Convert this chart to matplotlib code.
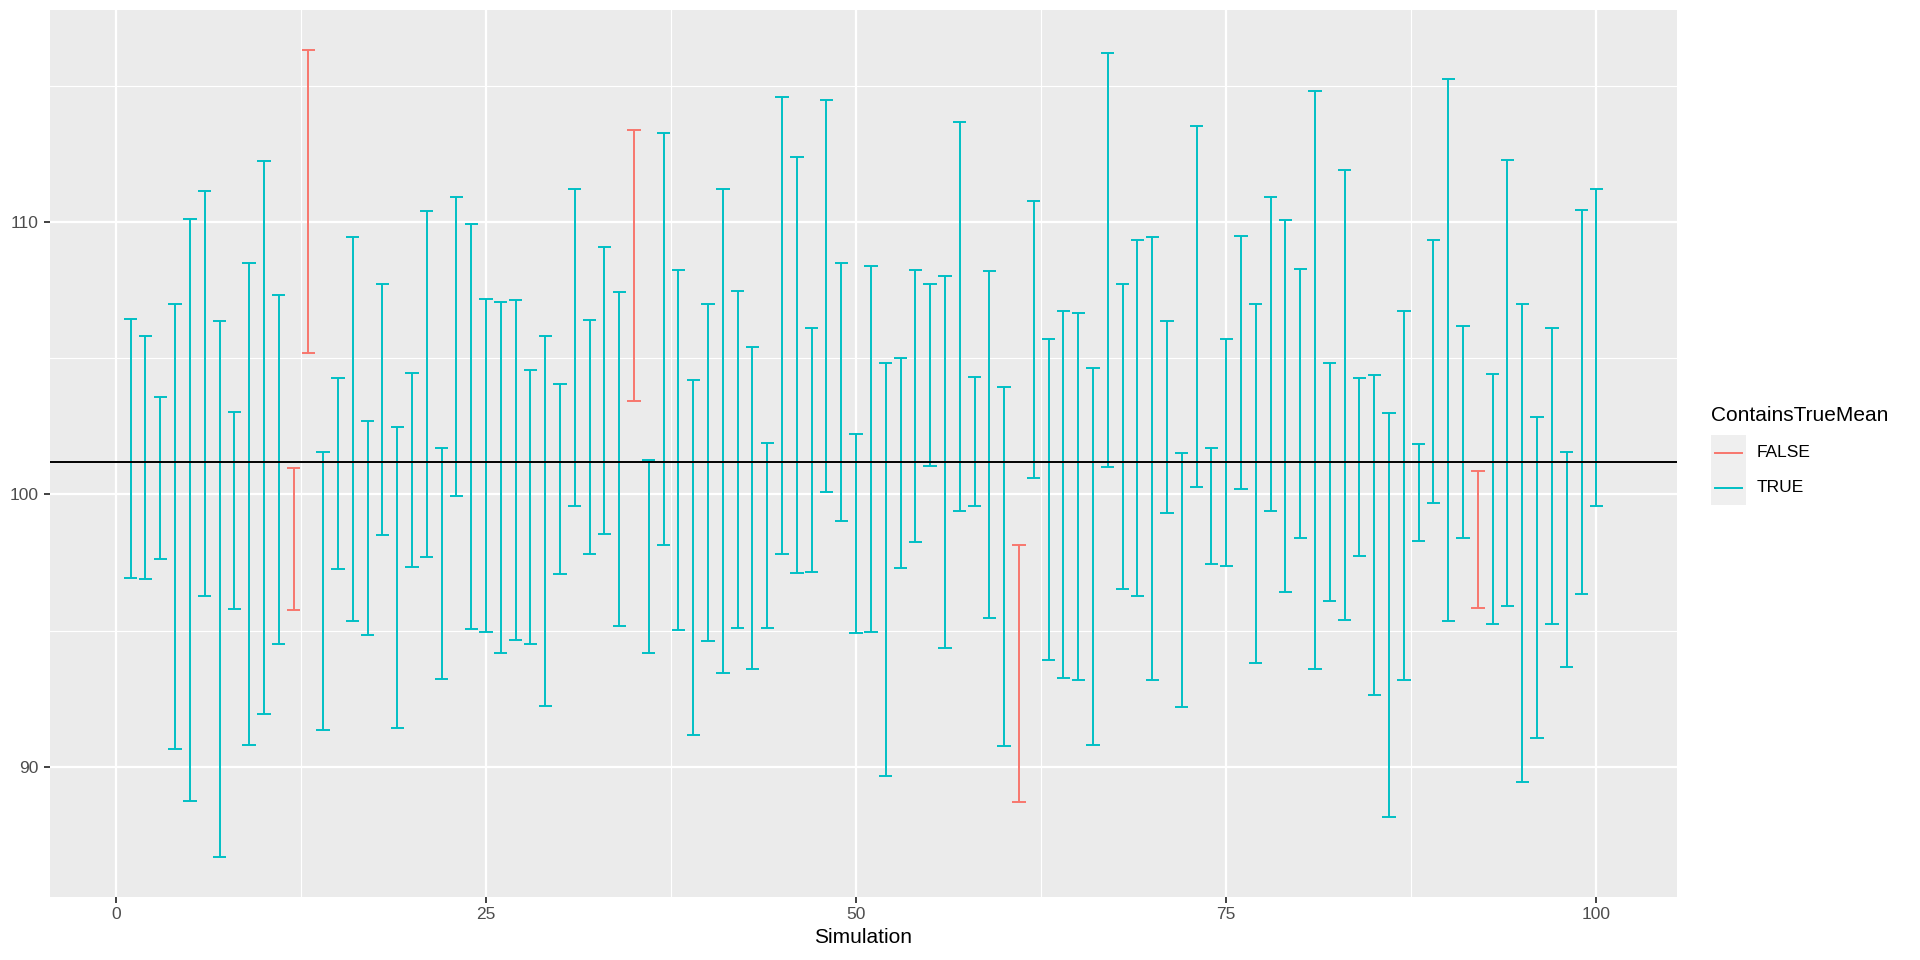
import matplotlib as mpl
mpl.use('Agg')
mpl.rcParams['font.family'] = ['Liberation Sans', 'DejaVu Sans']
mpl.rcParams['font.size'] = 12

import numpy as np
import matplotlib.pyplot as plt
from matplotlib.lines import Line2D
from matplotlib.patches import Rectangle

# intervalos de confianza (sim 1..100)
simulation = np.arange(1, 101)
lower = [96.93, 96.88, 97.64, 90.65, 88.76, 96.29, 86.70, 95.78, 90.79, 91.95,
         94.50, 95.75, 105.21, 91.37, 97.27, 95.35, 94.83, 98.52, 91.43, 97.32,
         97.70, 93.23, 99.93, 95.07, 94.96, 94.19, 94.65, 94.50, 92.22, 97.09,
         99.56, 97.80, 98.54, 95.17, 103.45, 94.19, 98.16, 95.02, 91.16, 94.63,
         93.43, 95.09, 93.58, 95.11, 97.80, 97.13, 97.14, 100.08, 99.01, 94.91,
         94.96, 89.68, 97.31, 98.24, 101.03, 94.38, 99.38, 99.59, 95.48, 90.77,
         88.71, 100.59, 93.91, 93.25, 93.19, 90.80, 101.02, 96.52, 96.27, 93.17,
         99.33, 92.18, 100.26, 97.45, 97.36, 100.20, 93.81, 99.41, 96.42, 98.42,
         93.61, 96.09, 95.39, 97.73, 92.63, 88.17, 93.19, 98.29, 99.69, 95.37,
         98.42, 95.83, 95.25, 95.90, 89.45, 91.07, 95.25, 93.68, 96.35, 99.56]
upper = [106.44, 105.81, 103.58, 106.98, 110.13, 111.13, 106.37, 103.04, 108.51, 112.25,
         107.34, 100.99, 116.31, 101.56, 104.29, 109.44, 102.69, 107.73, 102.46, 104.47,
         110.41, 101.72, 110.94, 109.95, 107.16, 107.06, 107.14, 104.58, 105.81, 104.06,
         111.23, 106.40, 109.08, 107.44, 113.40, 101.28, 113.27, 108.24, 104.22, 107.00,
         111.22, 107.47, 105.42, 101.90, 114.61, 112.40, 106.11, 114.48, 108.49, 102.23,
         108.39, 104.83, 105.01, 108.24, 107.72, 108.03, 113.68, 104.32, 108.21, 103.96,
         98.13, 110.79, 105.70, 106.75, 106.65, 104.66, 116.22, 107.72, 109.33, 109.44,
         106.37, 101.53, 113.53, 101.71, 105.71, 109.49, 107.01, 110.94, 110.07, 108.28,
         114.83, 104.84, 111.90, 104.27, 104.37, 102.99, 106.75, 101.86, 109.34, 115.27,
         106.17, 100.85, 104.43, 112.28, 107.01, 102.84, 106.12, 101.56, 110.43, 111.20]
true_mean = 101.2

lower = np.array(lower)
upper = np.array(upper)
contains = (lower <= true_mean) & (upper >= true_mean)

col_false = '#F8766D'
col_true = '#00BFC4'
lw = 1.4

fig = plt.figure(figsize=(19.2, 9.6), dpi=100)
ax = fig.add_axes([50/1920, 1-897/960, (1677-50)/1920, (897-10)/960])
ax.set_facecolor('#EBEBEB')
for s in ax.spines.values():
    s.set_visible(False)

# rejilla estilo ggplot
ax.set_xlim(-4.45, 105.45)
ax.set_ylim(85.22, 117.79)
ax.set_xticks([0, 25, 50, 75, 100])
ax.set_yticks([90, 100, 110])
ax.set_xticks([12.5, 37.5, 62.5, 87.5], minor=True)
ax.set_yticks([95, 105, 115], minor=True)
ax.grid(which='major', color='white', linewidth=1.6)
ax.grid(which='minor', color='white', linewidth=0.8)
ax.set_axisbelow(True)
ax.tick_params(which='major', length=4, width=1.3, color='#333333',
               labelcolor='#4D4D4D', labelsize=12.5)
ax.tick_params(axis='y', pad=4)
ax.tick_params(axis='x', pad=3.5)
ax.tick_params(which='minor', length=0)

# barras de error
w = 0.45
for flag, c in [(False, col_false), (True, col_true)]:
    m = contains == flag
    x = simulation[m]
    ax.vlines(x, lower[m], upper[m], color=c, linewidth=lw, zorder=3)
    ax.hlines(lower[m], x - w, x + w, color=c, linewidth=lw, zorder=3)
    ax.hlines(upper[m], x - w, x + w, color=c, linewidth=lw, zorder=3)

ax.axhline(true_mean, color='black', linewidth=lw, zorder=4)

ax.set_xlabel('Simulation', fontsize=15, color='black', labelpad=4)

# leyenda manual
fig.text(1711/1920, 1-415/960, 'ContainsTrueMean', fontsize=15,
         ha='left', va='center', color='black')
keys = [('FALSE', col_false), ('TRUE', col_true)]
for i, (lab, c) in enumerate(keys):
    yc = 452.5 + i*35
    fig.patches.append(Rectangle((1711/1920, 1-(yc+17.5)/960), 35/1920, 35/960,
                                 transform=fig.transFigure, facecolor='#EFEFEF',
                                 edgecolor='none'))
    fig.lines.append(Line2D([1715/1920, 1742/1920], [1-yc/960, 1-yc/960],
                            transform=fig.transFigure, color=c, linewidth=lw))
    fig.text(1757/1920, 1-yc/960, lab, fontsize=12.5, ha='left', va='center',
             color='black')

plt.savefig('out.png', dpi=100)
